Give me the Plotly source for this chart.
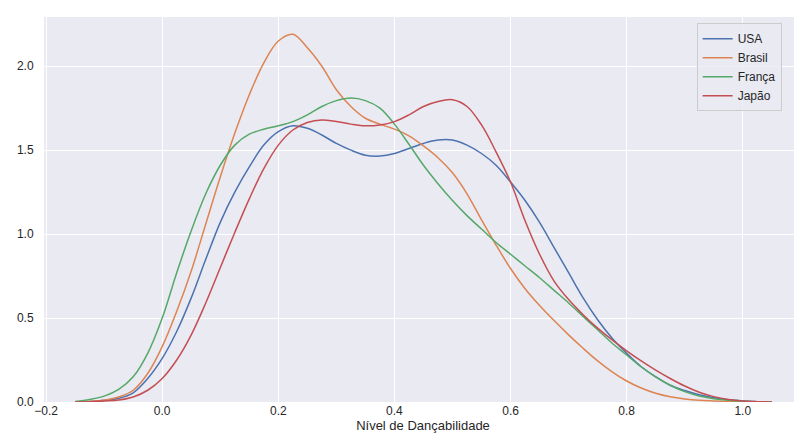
import plotly.graph_objects as go

# Common x grid (Nível de Dançabilidade)
x_vals = [-0.15, -0.125, -0.10, -0.075, -0.05, -0.025, 0.0, 0.025, 0.05, 0.075,
          0.10, 0.125, 0.15, 0.175, 0.20, 0.225, 0.25, 0.275, 0.30, 0.325,
          0.35, 0.375, 0.40, 0.425, 0.45, 0.475, 0.50, 0.525, 0.55, 0.575,
          0.60, 0.625, 0.65, 0.675, 0.70, 0.725, 0.75, 0.775, 0.80, 0.825,
          0.85, 0.875, 0.90, 0.925, 0.95, 0.975, 1.00, 1.025, 1.05]

usa = [0.0, 0.003, 0.01, 0.022, 0.055, 0.14, 0.26, 0.42, 0.62, 0.85,
       1.07, 1.25, 1.40, 1.53, 1.61, 1.645, 1.63, 1.59, 1.54, 1.50,
       1.47, 1.465, 1.48, 1.51, 1.54, 1.56, 1.56, 1.53, 1.48, 1.41,
       1.31, 1.20, 1.07, 0.92, 0.77, 0.62, 0.49, 0.38, 0.29, 0.21,
       0.15, 0.10, 0.068, 0.043, 0.025, 0.013, 0.006, 0.002, 0.0]

brasil = [0.0, 0.003, 0.01, 0.03, 0.07, 0.17, 0.33, 0.54, 0.78, 1.06,
          1.34, 1.60, 1.83, 2.02, 2.15, 2.19, 2.11, 2.00, 1.86, 1.76,
          1.69, 1.655, 1.625, 1.585, 1.525, 1.455, 1.365, 1.24, 1.085, 0.935,
          0.795, 0.675, 0.575, 0.485, 0.40, 0.32, 0.245, 0.18, 0.125, 0.083,
          0.052, 0.031, 0.018, 0.01, 0.006, 0.003, 0.001, 0.0, 0.0]

franca = [0.003, 0.015, 0.035, 0.075, 0.15, 0.29, 0.50, 0.77, 1.02, 1.24,
          1.41, 1.53, 1.595, 1.625, 1.645, 1.67, 1.71, 1.76, 1.795, 1.81,
          1.795, 1.75, 1.655, 1.535, 1.41, 1.30, 1.20, 1.11, 1.03, 0.95,
          0.88, 0.81, 0.74, 0.665, 0.59, 0.51, 0.43, 0.35, 0.28, 0.21,
          0.15, 0.10, 0.062, 0.036, 0.02, 0.01, 0.004, 0.001, 0.0]

japao = [0.0, 0.002, 0.006, 0.012, 0.03, 0.07, 0.14, 0.25, 0.40, 0.59,
         0.80, 1.01, 1.21, 1.39, 1.53, 1.62, 1.665, 1.68, 1.67, 1.655,
         1.645, 1.65, 1.67, 1.71, 1.76, 1.79, 1.80, 1.76, 1.65, 1.49,
         1.31, 1.08, 0.88, 0.72, 0.61, 0.52, 0.44, 0.37, 0.305, 0.245,
         0.19, 0.14, 0.095, 0.058, 0.032, 0.015, 0.006, 0.002, 0.0]

series_names = ["USA", "Brasil", "França", "Japão"]
series_values = [usa, brasil, franca, japao]
series_colors = ["#4C72B0", "#DD8452", "#55A868", "#C44E52"]

x_ticks = [-0.2, 0.0, 0.2, 0.4, 0.6, 0.8, 1.0]
x_tick_labels = ["\u22120.2", "0.0", "0.2", "0.4", "0.6", "0.8", "1.0"]
y_ticks = [0.0, 0.5, 1.0, 1.5, 2.0]
y_tick_labels = ["0.0", "0.5", "1.0", "1.5", "2.0"]

fig = go.Figure()
for name, vals, col in zip(series_names, series_values, series_colors):
    fig.add_trace(go.Scatter(
        x=x_vals, y=vals, mode="lines", name=name,
        line=dict(color=col, width=1.5, shape="spline", smoothing=1.0),
    ))

font_family = "Arial, Liberation Sans, sans-serif"
# the page body has an 8px margin, so the figure is 794x425
fig.update_layout(
    width=794, height=425,
    margin=dict(l=36, r=0, t=9, b=31, autoexpand=False),
    paper_bgcolor="white",
    plot_bgcolor="#EAEAF2",
    font=dict(family=font_family, size=12, color="#262626"),
    showlegend=True,
    legend=dict(
        x=0.861, y=0.984, xanchor="left", yanchor="top",
        bgcolor="rgba(234,234,242,0.8)", bordercolor="#CCCCCC", borderwidth=1,
        font=dict(family=font_family, size=12, color="#262626"),
        tracegroupgap=0, itemwidth=30,
    ),
    xaxis=dict(
        range=[-0.2036, 1.102],
        tickmode="array", tickvals=x_ticks, ticktext=x_tick_labels,
        showgrid=True, gridcolor="white", gridwidth=1,
        zeroline=False, showline=False,
        ticks="", ticklen=0,
        tickfont=dict(size=12),
        title=dict(text="Nível de Dançabilidade", font=dict(size=13), standoff=2),
        automargin=False,
    ),
    yaxis=dict(
        range=[0, 2.293],
        tickmode="array", tickvals=y_ticks, ticktext=y_tick_labels,
        showgrid=True, gridcolor="white", gridwidth=1,
        zeroline=False, showline=False,
        ticks="outside", ticklen=7, tickcolor="rgba(0,0,0,0)",
        tickfont=dict(size=12),
        automargin=False,
    ),
)

fig.write_html("out.html")
